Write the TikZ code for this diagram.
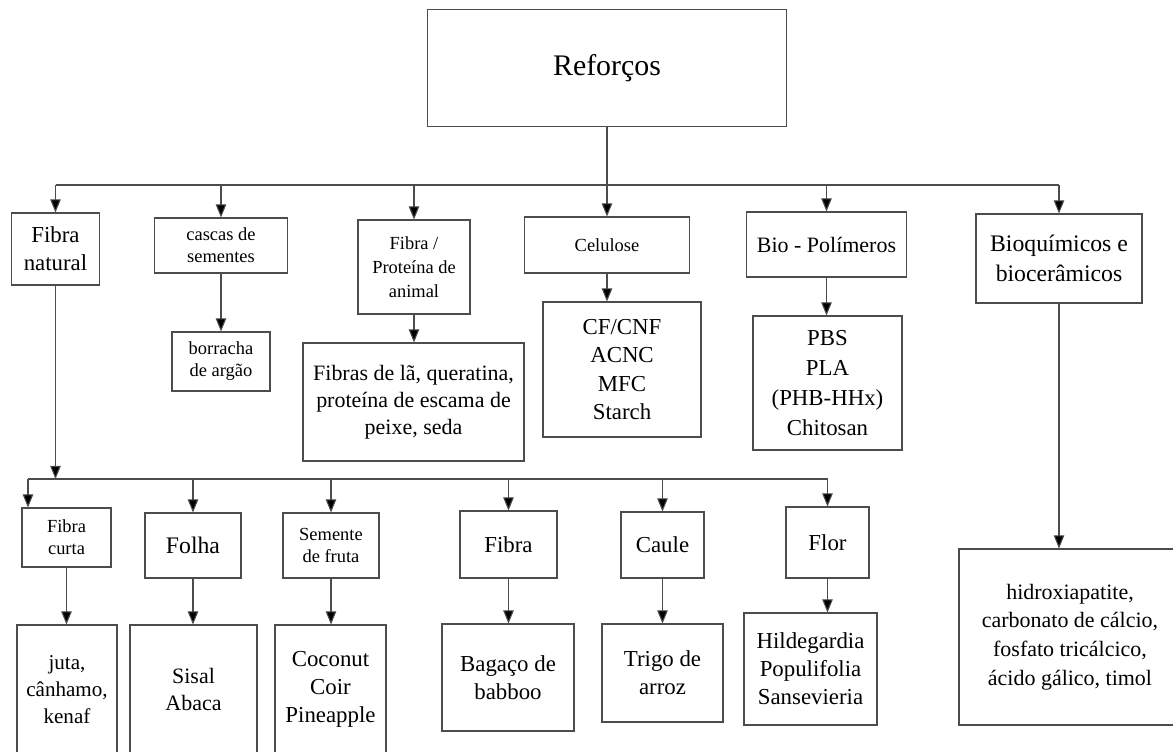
\documentclass[tikz,border=0pt]{standalone}
\usepackage{fontspec}
\setmainfont{Liberation Serif}
\usetikzlibrary{arrows.meta,positioning}

\begin{document}
\begin{tikzpicture}[x=0.02cm,y=-0.02cm,
  box/.style 2 args={draw=black!70, line width=0.6pt, align=center, inner sep=0pt,
    minimum width=#1*0.02cm, minimum height=#2*0.02cm},
  big/.style={font=\fontsize{13}{16}\selectfont},
  small/.style={font=\fontsize{10.5}{12.5}\selectfont},
  arr/.style={draw=black!70, line width=0.6pt, -{Triangle[length=7.5pt,width=6pt,fill=black]}},
  bus/.style={draw=black!70, line width=0.6pt}]
\useasboundingbox (0,0) rectangle (1173,751);

% top
\node[box={359}{117}, font=\fontsize{17}{20}\selectfont] (ref) at (607,68) {Reforços};

% first level
\node[box={88}{72}, big] (fnat) at (55.5,249) {Fibra\\natural};
\node[box={133}{55}, small] (casc) at (221,245.5) {cascas de\\sementes};
\node[box={98}{59}, small] (borr) at (221,361.5) {borracha\\de argão};
\node[box={112}{94}, small, font=\fontsize{10.5}{13.5}\selectfont] (fprot) at (414,267) {Fibra /\\Proteína de\\animal};
\node[box={221}{118}, font=\fontsize{12.5}{15.5}\selectfont] (fibl) at (413.5,402) {Fibras de lã, queratina,\\proteína de escama de\\peixe, seda};
\node[box={165}{56}, small] (celu) at (607,245) {Celulose};
\node[box={158}{135}, big] (cfcnf) at (622,369.5) {CF/CNF\\ACNC\\MFC\\Starch};
\node[box={160}{65}, font=\fontsize{12.5}{16}\selectfont] (biop) at (826.5,244.5) {Bio - Polímeros};
\node[box={149}{134}, font=\fontsize{13}{17}\selectfont] (pbs) at (827.5,383) {PBS\\PLA\\(PHB-HHx)\\Chitosan};
\node[box={166}{89}, font=\fontsize{13.5}{17}\selectfont] (bioq) at (1059,258.5) {Bioquímicos e\\biocerâmicos};
\node[box={222}{176}, font=\fontsize{12.5}{16.4}\selectfont] (hidr) at (1070,637) {hidroxiapatite,\\carbonato de cálcio,\\fosfato tricálcico,\\ácido gálico, timol};

% fibra natural
\node[box={89}{59}, small] (fcurt) at (66.5,537.5) {Fibra\\curta};
\node[box={100}{129}, font=\fontsize{12}{15.3}\selectfont] (juta) at (67,689.5) {juta,\\cânhamo,\\kenaf};
\node[box={96}{65}, font=\fontsize{13.5}{16}\selectfont] (folha) at (193,545.5) {Folha};
\node[box={127}{129}, font=\fontsize{12.5}{15}\selectfont] (sisal) at (193.5,689.5) {Sisal\\Abaca};
\node[box={96}{65}, small] (sem) at (331,545.5) {Semente\\de fruta};
\node[box={111}{129}, big] (coco) at (330.5,689.5) {Coconut\\Coir\\Pineapple};
\node[box={97}{67}, big] (fibra) at (508.5,544.5) {Fibra};
\node[box={132}{107}, big] (bag) at (508,677.5) {Bagaço de\\babboo};
\node[box={83}{66}, big] (caule) at (662.5,545) {Caule};
\node[box={121}{98}, big] (trigo) at (662.5,673) {Trigo de\\arroz};
\node[box={83}{71}, big] (flor) at (827.5,542.5) {Flor};
\node[box={133}{112}, big] (hild) at (810.5,669) {Hildegardia\\Populifolia\\Sansevieria};

% connectors, first level
\coordinate (tb) at (607,185);
\draw[bus] (fnat.north |- tb) -- (bioq.north |- tb);
\draw[arr] (ref.south) -- (celu.north);
\foreach \n in {fnat,casc,fprot,biop,bioq}
  \draw[arr] (\n.north |- tb) -- (\n.north);
\foreach \a/\b in {casc/borr,fprot/fibl,celu/cfcnf,biop/pbs,bioq/hidr}
  \draw[arr] (\a.south) -- (\a.south |- \b.north);

% connectors, fibra natural
\coordinate (bb) at (55.5,479);
\coordinate (fcin) at (28,479);
\draw[arr] (fnat.south) -- (bb);
\draw[bus] (fcin) -- (flor.north |- bb);
\draw[arr] (fcin) -- (fcin |- fcurt.north);
\foreach \n in {folha,sem,fibra,caule,flor}
  \draw[arr] (\n.north |- bb) -- (\n.north);
\foreach \a/\b in {fcurt/juta,folha/sisal,sem/coco,fibra/bag,caule/trigo,flor/hild}
  \draw[arr] (\a.south) -- (\a.south |- \b.north);
\end{tikzpicture}
\end{document}
